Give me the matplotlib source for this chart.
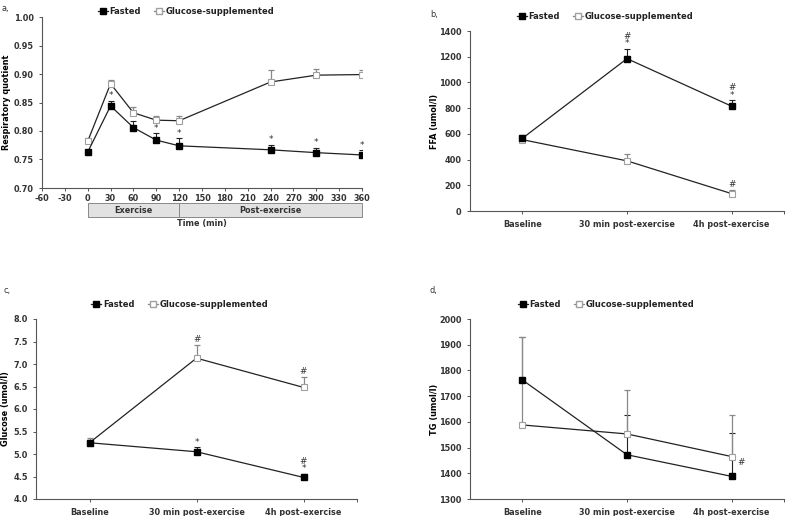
import matplotlib
matplotlib.use("Agg")
import matplotlib.pyplot as plt
import matplotlib.transforms as mtransforms
from matplotlib.lines import Line2D
from matplotlib.patches import Rectangle

plt.rcParams['font.family'] = ['DejaVu Sans']
plt.rcParams['font.weight'] = 'bold'
plt.rcParams['axes.unicode_minus'] = False
FS = 5.9

# ---------------- data ----------------
# Panel a: respiratory quotient
time_min = [0, 30, 60, 90, 120, 240, 300, 360]
rq_fasted = [0.763, 0.844, 0.806, 0.784, 0.774, 0.767, 0.762, 0.758]
rq_fasted_err = [0.004, 0.009, 0.011, 0.012, 0.013, 0.009, 0.009, 0.008]
rq_glucose = [0.782, 0.883, 0.832, 0.819, 0.818, 0.886, 0.898, 0.899]
rq_glucose_err = [0.005, 0.007, 0.010, 0.008, 0.008, 0.021, 0.011, 0.008]
rq_fasted_sig = ['', '*', '*', '*', '*', '*', '*', '*']
rq_glucose_sig = ['', '', '', '', '', '', '', '']
time_ticks = list(range(-60, 361, 30))

# Panels b-d: categorical
categories = ['Baseline', '30 min post-exercise', '4h post-exercise']

ffa_fasted = [565, 1185, 815]
ffa_fasted_err = [25, 75, 45]
ffa_glucose = [555, 390, 135]
ffa_glucose_err = [10, 50, 30]
ffa_fasted_sig = ['', '#\n*', '#\n*']
ffa_glucose_sig = ['', '', '#']

glu_fasted = [5.25, 5.05, 4.48]
glu_fasted_err = [0.07, 0.10, 0.08]
glu_glucose = [5.25, 7.13, 6.48]
glu_glucose_err = [0.10, 0.29, 0.24]
glu_fasted_sig = ['', '*', '#\n*']
glu_glucose_sig = ['', '#', '#']

tg_fasted = [1763, 1472, 1388]
tg_fasted_err = [167, 156, 170]
tg_glucose = [1588, 1553, 1465]
tg_glucose_err = [342, 172, 162]

# ---------------- figure ----------------
W, H = 786, 516
fig = plt.figure(figsize=(W / 100, H / 100), dpi=100)


def axrect(x0, x1, ytop, ybot):
    return [x0 / W, 1 - ybot / H, (x1 - x0) / W, (ybot - ytop) / H]


ax_a = fig.add_axes(axrect(42, 362, 17, 188))
ax_b = fig.add_axes(axrect(470, 784, 31, 211))
ax_c = fig.add_axes(axrect(36, 357, 319, 499))
ax_d = fig.add_axes(axrect(470, 784, 319, 499))

GREY_EDGE = '#a0a0a0'
LINE_C = '#222222'


def style_axes(ax):
    for s in ['top', 'right']:
        ax.spines[s].set_visible(False)
    for s in ['left', 'bottom']:
        ax.spines[s].set_color('#555555')
        ax.spines[s].set_linewidth(0.8)
    ax.tick_params(axis='both', direction='out', length=2.5, width=0.7,
                   colors='#555555', labelcolor='#333333', labelsize=FS)
    for lab in ax.get_xticklabels() + ax.get_yticklabels():
        lab.set_fontweight('bold')


def plot_series(ax, x, fy, fe, gy, ge, fsig=None, gsig=None, ann_fs=FS + 0.5,
                glucose_err_top=False):
    gz = 3.5 if glucose_err_top else 2
    ax.errorbar(x, gy, yerr=[[0] * len(ge), ge], fmt='none', ecolor='#888888',
                elinewidth=0.9, capsize=2, capthick=0.9, zorder=gz)
    ax.errorbar(x, fy, yerr=[[0] * len(fe), fe], fmt='none', ecolor='#222222',
                elinewidth=0.8, capsize=2, capthick=0.8, zorder=3)
    ax.plot(x, gy, color=LINE_C, lw=0.9, marker='s', ms=4, mfc='white',
            mec=GREY_EDGE, mew=0.8, zorder=4)
    ax.plot(x, fy, color=LINE_C, lw=0.9, marker='s', ms=4, mfc='black',
            mec='black', zorder=5)
    for sig, ys, es in [(fsig, fy, fe), (gsig, gy, ge)]:
        if not sig:
            continue
        for xi, yi, ei, s in zip(x, ys, es, sig):
            if s:
                ax.annotate(s, (xi, yi + ei), xytext=(0, 0.5), textcoords='offset points',
                            ha='center', va='bottom', fontsize=ann_fs, fontweight='normal',
                            linespacing=0.8, color='#333333')


def add_legend(ax, xc, yc):
    h1 = Line2D([], [], color=LINE_C, lw=0.9, marker='s', ms=4, mfc='black', mec='black')
    h2 = Line2D([], [], color='#888888', lw=0.9, marker='s', ms=4, mfc='white', mec=GREY_EDGE)
    leg = ax.legend([h1, h2], ['Fasted', 'Glucose-supplemented'], loc='center',
                    bbox_to_anchor=(xc, yc), ncol=2, frameon=False, fontsize=FS + 0.1,
                    handlelength=1.2, handletextpad=0.2, columnspacing=1.6,
                    borderaxespad=0)
    for t in leg.get_texts():
        t.set_fontweight('bold')
        t.set_color('#222222')


def set_ylab(ax, text, xfrac):
    ax.set_ylabel(text, fontsize=FS, fontweight='bold')
    ax.yaxis.set_label_coords(xfrac, 0.5)
    ax.yaxis.label.set_verticalalignment('center')


# ---------- panel a ----------
plot_series(ax_a, time_min, rq_fasted, rq_fasted_err, rq_glucose, rq_glucose_err,
            rq_fasted_sig, rq_glucose_sig)
ax_a.set_xlim(-60, 360)
ax_a.set_ylim(0.70, 1.00)
ax_a.set_xticks(time_ticks)
yta = [0.70, 0.75, 0.80, 0.85, 0.90, 0.95, 1.00]
ax_a.set_yticks(yta)
ax_a.set_yticklabels(['%.2f' % v for v in yta])
set_ylab(ax_a, 'Respiratory quotient', (6 - 42) / 320)
style_axes(ax_a)
ax_a.tick_params(axis='x', pad=2)
trans = mtransforms.blended_transform_factory(ax_a.transData, ax_a.transAxes)
for x0, x1, lab in [(0, 120, 'Exercise'), (120, 360, 'Post-exercise')]:
    ax_a.add_patch(Rectangle((x0, -0.17), x1 - x0, 0.082, transform=trans,
                             facecolor='#e2e2e2', edgecolor='#888888', lw=0.7,
                             clip_on=False))
    ax_a.text((x0 + x1) / 2, -0.129, lab, transform=trans, ha='center', va='center',
              fontsize=FS, fontweight='bold', color='#333333')
ax_a.text(0.5, -0.205, 'Time (min)', transform=ax_a.transAxes, ha='center', va='center',
          fontsize=FS, fontweight='bold', color='#333333')
add_legend(ax_a, 0.45, 1.03)

# ---------- categorical panels ----------
xcat = [0.5, 1.5, 2.5]


def style_cat(ax):
    ax.set_xlim(0, 3)
    ax.set_xticks(xcat + [3.0])
    ax.set_xticklabels(categories + [''])
    style_axes(ax)
    ax.tick_params(axis='x', pad=4)


plot_series(ax_b, xcat, ffa_fasted, ffa_fasted_err, ffa_glucose, ffa_glucose_err,
            ffa_fasted_sig, ffa_glucose_sig)
ax_b.set_ylim(0, 1400)
ax_b.set_yticks(range(0, 1401, 200))
set_ylab(ax_b, 'FFA (umol/l)', (435 - 470) / 314)
style_cat(ax_b)
add_legend(ax_b, 0.43, 1.083)

plot_series(ax_c, xcat, glu_fasted, glu_fasted_err, glu_glucose, glu_glucose_err,
            glu_fasted_sig, glu_glucose_sig)
ax_c.set_ylim(4.0, 8.0)
yt = [4.0, 4.5, 5.0, 5.5, 6.0, 6.5, 7.0, 7.5, 8.0]
ax_c.set_yticks(yt)
ax_c.set_yticklabels(['%.1f' % v for v in yt])
set_ylab(ax_c, 'Glucose (umol/l)', (6 - 36) / 321)
style_cat(ax_c)
add_legend(ax_c, 0.448, 1.083)

plot_series(ax_d, xcat, tg_fasted, tg_fasted_err, tg_glucose, tg_glucose_err,
            glucose_err_top=True)
ax_d.annotate('#', (xcat[2], tg_fasted[2]), xytext=(7, 10), textcoords='offset points',
              ha='center', va='center', fontsize=FS + 0.5, fontstyle='italic',
              fontweight='normal', color='#333333')
ax_d.set_ylim(1300, 2000)
ax_d.set_yticks(range(1300, 2001, 100))
set_ylab(ax_d, 'TG (umol/l)', (435 - 470) / 314)
style_cat(ax_d)
add_legend(ax_d, 0.433, 1.083)

# panel labels
for txt, x, y in [('a,', 2, 8), ('b,', 430, 15), ('c,', 4, 291), ('d,', 429, 291)]:
    fig.text(x / W, 1 - y / H, txt, fontsize=FS, fontweight='normal', color='#333333',
             ha='left', va='center')

fig.savefig('out.png', dpi=100)
